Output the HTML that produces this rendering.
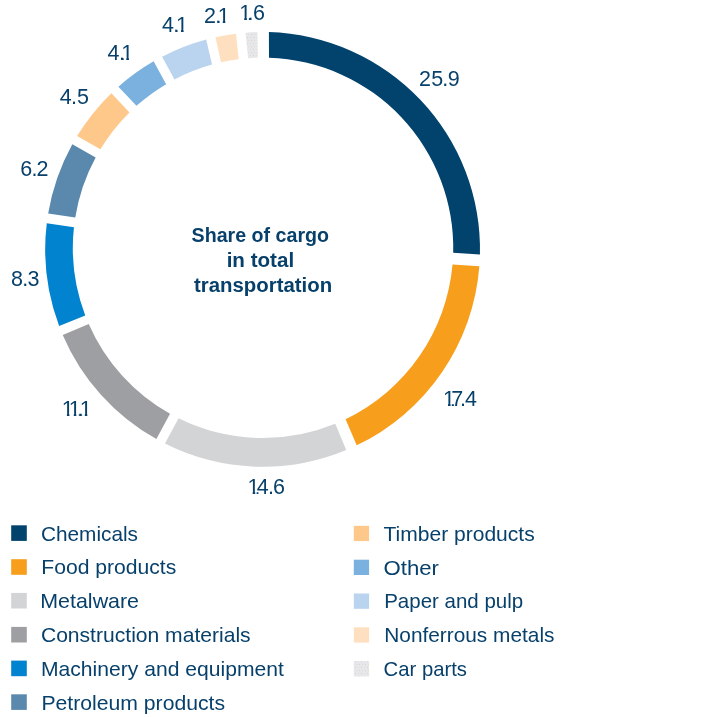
<!DOCTYPE html>
<html><head><meta charset="utf-8"><style>
html,body{margin:0;padding:0;background:#fff;width:720px;height:717px;overflow:hidden}
svg{display:block;will-change:transform}
text{font-family:"Liberation Sans",Arial,sans-serif;fill:#07406b}
</style></head><body>
<svg width="720" height="717" viewBox="0 0 720 717">
<defs><pattern id="cp" patternUnits="userSpaceOnUse" x="0" y="0" width="6" height="6">
<rect width="6" height="6" fill="#e6e7eb"/><rect x="1" y="1" width="1" height="1" fill="#d2d5da"/><rect x="4" y="1" width="1" height="1" fill="#f6d8b6"/>
<rect x="2" y="4" width="1" height="1" fill="#f6d8b6"/><rect x="5" y="4" width="1" height="1" fill="#d2d5da"/>
</pattern>
<mask id="m1" maskUnits="userSpaceOnUse" x="0" y="0" width="720" height="717">
<rect x="0" y="0" width="720" height="717" fill="#fff"/>
<rect x="443.02" y="403.59" width="5.27" height="3.41" fill="#000"/>
<rect x="450.20" y="403.59" width="5.09" height="3.41" fill="#000"/>
<rect x="247.72" y="491.59" width="5.27" height="3.41" fill="#000"/>
<rect x="254.90" y="491.59" width="5.09" height="3.41" fill="#000"/>
<rect x="61.92" y="413.69" width="5.27" height="3.41" fill="#000"/>
<rect x="69.10" y="413.69" width="5.09" height="3.41" fill="#000"/>
<rect x="68.82" y="413.69" width="5.27" height="3.41" fill="#000"/>
<rect x="76.00" y="413.69" width="5.09" height="3.41" fill="#000"/>
<rect x="79.82" y="413.69" width="5.27" height="3.41" fill="#000"/>
<rect x="87.00" y="413.69" width="5.09" height="3.41" fill="#000"/>
<rect x="121.42" y="57.59" width="5.27" height="3.41" fill="#000"/>
<rect x="128.60" y="57.59" width="5.09" height="3.41" fill="#000"/>
<rect x="176.02" y="29.59" width="5.27" height="3.41" fill="#000"/>
<rect x="183.20" y="29.59" width="5.09" height="3.41" fill="#000"/>
<rect x="217.82" y="20.59" width="5.27" height="3.41" fill="#000"/>
<rect x="225.00" y="20.59" width="5.09" height="3.41" fill="#000"/>
<rect x="239.32" y="17.49" width="5.27" height="3.41" fill="#000"/>
<rect x="246.50" y="17.49" width="5.09" height="3.41" fill="#000"/>
<rect x="419.40" y="83.99" width="11.00" height="3.41" fill="#fff"/>
<rect x="431.55" y="83.99" width="11.40" height="3.41" fill="#fff"/>
<rect x="443.68" y="83.99" width="3.25" height="3.41" fill="#fff"/>
<rect x="448.08" y="83.99" width="11.13" height="3.41" fill="#fff"/>
<rect x="448.00" y="403.59" width="2.50" height="3.41" fill="#fff"/>
<rect x="451.81" y="403.59" width="10.97" height="3.41" fill="#fff"/>
<rect x="461.28" y="403.59" width="3.25" height="3.41" fill="#fff"/>
<rect x="464.98" y="403.59" width="12.04" height="3.41" fill="#fff"/>
<rect x="252.70" y="491.59" width="2.50" height="3.41" fill="#fff"/>
<rect x="256.63" y="491.59" width="12.04" height="3.41" fill="#fff"/>
<rect x="269.28" y="491.59" width="3.25" height="3.41" fill="#fff"/>
<rect x="273.59" y="491.59" width="11.12" height="3.41" fill="#fff"/>
<rect x="66.90" y="413.69" width="2.50" height="3.41" fill="#fff"/>
<rect x="73.80" y="413.69" width="2.50" height="3.41" fill="#fff"/>
<rect x="78.83" y="413.69" width="3.25" height="3.41" fill="#fff"/>
<rect x="84.80" y="413.69" width="2.50" height="3.41" fill="#fff"/>
<rect x="11.46" y="283.89" width="11.29" height="3.41" fill="#fff"/>
<rect x="23.73" y="283.89" width="3.25" height="3.41" fill="#fff"/>
<rect x="27.60" y="283.89" width="11.39" height="3.41" fill="#fff"/>
<rect x="20.64" y="173.59" width="11.12" height="3.41" fill="#fff"/>
<rect x="32.93" y="173.59" width="3.25" height="3.41" fill="#fff"/>
<rect x="36.95" y="173.59" width="11.00" height="3.41" fill="#fff"/>
<rect x="59.53" y="101.59" width="12.04" height="3.41" fill="#fff"/>
<rect x="72.38" y="101.59" width="3.25" height="3.41" fill="#fff"/>
<rect x="77.18" y="101.59" width="11.40" height="3.41" fill="#fff"/>
<rect x="107.36" y="57.59" width="12.04" height="3.41" fill="#fff"/>
<rect x="120.43" y="57.59" width="3.25" height="3.41" fill="#fff"/>
<rect x="126.40" y="57.59" width="2.50" height="3.41" fill="#fff"/>
<rect x="161.78" y="29.59" width="12.04" height="3.41" fill="#fff"/>
<rect x="174.73" y="29.59" width="3.25" height="3.41" fill="#fff"/>
<rect x="181.00" y="29.59" width="2.50" height="3.41" fill="#fff"/>
<rect x="204.50" y="20.59" width="11.00" height="3.41" fill="#fff"/>
<rect x="216.53" y="20.59" width="3.25" height="3.41" fill="#fff"/>
<rect x="222.80" y="20.59" width="2.50" height="3.41" fill="#fff"/>
<rect x="244.30" y="17.49" width="2.50" height="3.41" fill="#fff"/>
<rect x="248.88" y="17.49" width="3.25" height="3.41" fill="#fff"/>
<rect x="253.54" y="17.49" width="11.12" height="3.41" fill="#fff"/>
</mask></defs>
<g>
<path d="M268.90,32.09 A217.4,217.4 0 0 1 479.94,254.60 L453.18,252.81 A190.21,190.21 0 0 0 269.00,57.74 Z" fill="#02436d"/>
<path d="M479.35,266.22 A217.4,217.4 0 0 1 356.71,445.37 L345.57,419.23 A190.21,190.21 0 0 0 452.50,264.62 Z" fill="#f79f1d"/>
<path d="M346.24,450.07 A217.4,217.4 0 0 1 164.93,443.62 L178.60,418.31 A190.21,190.21 0 0 0 335.24,423.83 Z" fill="#d3d4d6"/>
<path d="M156.38,439.09 A217.4,217.4 0 0 1 62.72,334.90 L88.73,324.02 A190.21,190.21 0 0 0 170.02,413.78 Z" fill="#9e9fa3"/>
<path d="M59.14,325.99 A217.4,217.4 0 0 1 46.78,223.23 L73.95,227.18 A190.21,190.21 0 0 0 85.23,315.43 Z" fill="#0283cf"/>
<path d="M48.17,213.61 A217.4,217.4 0 0 1 72.34,144.22 L95.64,157.52 A190.21,190.21 0 0 0 75.25,217.56 Z" fill="#5a89ad"/>
<path d="M77.05,136.11 A217.4,217.4 0 0 1 111.45,93.14 L129.45,112.45 A190.21,190.21 0 0 0 100.37,149.26 Z" fill="#fec88b"/>
<path d="M118.40,86.71 A217.4,217.4 0 0 1 153.61,61.30 L166.16,84.16 A190.21,190.21 0 0 0 136.47,105.87 Z" fill="#7ab1df"/>
<path d="M162.07,56.64 A217.4,217.4 0 0 1 206.18,39.45 L212.03,64.62 A190.21,190.21 0 0 0 174.55,79.48 Z" fill="#bad4ef"/>
<path d="M215.45,37.17 A217.4,217.4 0 0 1 236.04,33.63 L238.66,59.22 A190.21,190.21 0 0 0 221.07,62.33 Z" fill="#fee0c0"/>
<path d="M245.51,32.67 A217.4,217.4 0 0 1 257.41,32.06 L257.80,57.72 A190.21,190.21 0 0 0 248.19,58.23 Z" fill="url(#cp)"/>
</g>
<g>
<rect x="11.2" y="525.30" width="15.6" height="15.6" fill="#02436d"/>
<rect x="11.2" y="559.20" width="15.6" height="15.6" fill="#f79f1d"/>
<rect x="11.2" y="592.90" width="15.6" height="15.6" fill="#d3d4d6"/>
<rect x="11.2" y="626.90" width="15.6" height="15.6" fill="#9e9fa3"/>
<rect x="11.2" y="660.60" width="15.6" height="15.6" fill="#0283cf"/>
<rect x="11.2" y="694.30" width="15.6" height="15.6" fill="#5a89ad"/>
<rect x="353.8" y="525.80" width="15.3" height="15.3" fill="#fec88b"/>
<rect x="353.8" y="559.70" width="15.3" height="15.3" fill="#7ab1df"/>
<rect x="353.8" y="593.50" width="15.3" height="15.3" fill="#bad4ef"/>
<rect x="353.8" y="627.30" width="15.3" height="15.3" fill="#fee0c0"/>
<rect x="353.8" y="661.10" width="15.3" height="15.3" fill="url(#cp)"/>
</g>
<g>
<text x="418.92 431.29 442.31 447.68" y="86.2" font-size="21.5" mask="url(#m1)">25.9</text>
<text x="442.89 451.31 459.91 465.09" y="405.8" font-size="21.5" mask="url(#m1)">17.4</text>
<text x="247.59 256.74 267.91 273.10" y="493.8" font-size="21.5" mask="url(#m1)">14.6</text>
<text x="61.79 68.69 77.46 79.69" y="415.9" font-size="21.5" mask="url(#m1)">11.1</text>
<text x="11.12 22.36 27.38" y="286.1" font-size="21.5" mask="url(#m1)">8.3</text>
<text x="20.15 31.56 36.47" y="175.8" font-size="21.5" mask="url(#m1)">6.2</text>
<text x="59.64 71.01 76.92" y="103.8" font-size="21.5" mask="url(#m1)">4.5</text>
<text x="107.46 119.06 121.29" y="59.8" font-size="21.5" mask="url(#m1)">4.1</text>
<text x="161.89 173.36 175.89" y="31.8" font-size="21.5" mask="url(#m1)">4.1</text>
<text x="204.02 215.16 217.69" y="22.8" font-size="21.5" mask="url(#m1)">2.1</text>
<text x="239.19 247.51 253.05" y="19.7" font-size="21.5" mask="url(#m1)">1.6</text>
<text x="40.93" y="540.8" font-size="21" textLength="97.06" lengthAdjust="spacingAndGlyphs">Chemicals</text>
<text x="41.22" y="574.0" font-size="21" textLength="135.08" lengthAdjust="spacingAndGlyphs">Food products</text>
<text x="40.31" y="608.0" font-size="21" textLength="98.72" lengthAdjust="spacingAndGlyphs">Metalware</text>
<text x="40.91" y="642.0" font-size="21" textLength="209.75" lengthAdjust="spacingAndGlyphs">Construction materials</text>
<text x="40.98" y="675.7" font-size="21" textLength="242.92" lengthAdjust="spacingAndGlyphs">Machinery and equipment</text>
<text x="41.43" y="709.5" font-size="21" textLength="183.66" lengthAdjust="spacingAndGlyphs">Petroleum products</text>
<text x="383.49" y="540.9" font-size="21" textLength="151.16" lengthAdjust="spacingAndGlyphs">Timber products</text>
<text x="383.54" y="574.6" font-size="21" textLength="55.45" lengthAdjust="spacingAndGlyphs">Other</text>
<text x="384.19" y="608.3" font-size="21" textLength="139.00" lengthAdjust="spacingAndGlyphs">Paper and pulp</text>
<text x="384.25" y="642.0" font-size="21" textLength="170.18" lengthAdjust="spacingAndGlyphs">Nonferrous metals</text>
<text x="383.57" y="676.1" font-size="21" textLength="83.40" lengthAdjust="spacingAndGlyphs">Car parts</text>
<text x="191.60" y="242.1" font-size="19.5" font-weight="bold" textLength="137.47" lengthAdjust="spacingAndGlyphs">Share of cargo</text>
<text x="226.67" y="266.6" font-size="19.5" font-weight="bold" textLength="67.47" lengthAdjust="spacingAndGlyphs">in total</text>
<text x="194.03" y="291.6" font-size="19.5" font-weight="bold" textLength="138.11" lengthAdjust="spacingAndGlyphs">transportation</text>
</g>
</svg>
</body></html>
